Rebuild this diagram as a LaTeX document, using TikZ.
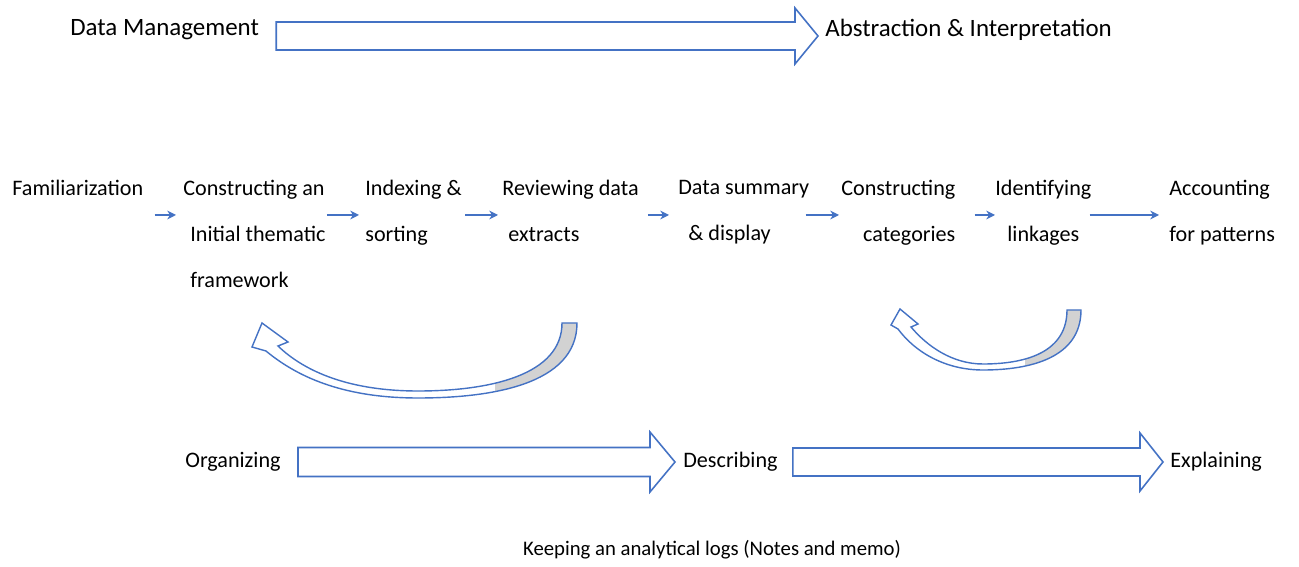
\documentclass[tikz,border=0pt]{standalone}
\usepackage{fontspec}
\setmainfont{Carlito}
\usetikzlibrary{arrows.meta,calc}

\definecolor{officeblue}{HTML}{4472C4}
\definecolor{tailgray}{HTML}{D2D2D2}

\tikzset{
  headtext/.style={font=\fontsize{14.2}{17}\selectfont, inner sep=0pt, anchor=west},
  steptext/.style={font=\fontsize{12.6}{26.2}\selectfont, inner sep=0pt, anchor=north west},
  phasetext/.style={font=\fontsize{12.6}{15}\selectfont, inner sep=0pt, anchor=west},
  flow/.style={officeblue, line width=0.8pt, -{Stealth[length=5pt,width=5pt]}},
  blockarrow/.style={draw=officeblue, line width=0.9pt, fill=white, line join=miter},
  loopback/.style={draw=officeblue, line width=0.8pt}
}

% hollow block arrow: start, tip, half shaft, half head, head length
\newcommand{\bigarrow}[5]{%
  \draw[blockarrow] ($(#1)+(0,-#3)$) -- ($(#2)+(-#5,-#3)$) -- ($(#2)+(-#5,-#4)$)
    -- (#2) -- ($(#2)+(-#5,#4)$) -- ($(#2)+(-#5,#3)$) -- ($(#1)+(0,#3)$) -- cycle;}

% curved return arrows
\newcommand{\leftloop}{(577,323) .. controls (577,385) and (490,398) .. (418,398)
  .. controls (340,398) and (295,375) .. (266,351) -- (252,347) -- (262,323)
  -- (288,342) -- (278,346) .. controls (305,372) and (350,391) .. (418,391)
  .. controls (490,391) and (562,375) .. (562,323) -- cycle}
\newcommand{\rightloop}{(1081,310) .. controls (1081,358) and (1030,370) .. (983,370)
  .. controls (945,370) and (915,352) .. (898,329) -- (891,325) -- (900,309)
  -- (918,324) -- (911,327) .. controls (927,346) and (952,364) .. (983,364)
  .. controls (1030,364) and (1067,350) .. (1067,310) -- cycle}

\begin{document}
\begin{tikzpicture}[x=0.02cm, y=-0.02cm]
  \useasboundingbox (0,0) rectangle (1299,567);

  % phases
  \node[headtext] (dm) at (70,30) {Data Management};
  \node[headtext] (abs) at (825,30) {Abstraction \& Interpretation};
  \coordinate (dmstart) at ($(dm.east)+(17,6)$);
  \coordinate (abstip) at ($(abs.west)+(-7,6)$);
  \bigarrow{dmstart}{abstip}{14}{28}{23}

  % steps
  \node[steptext] (fam) at (12,180) {Familiarization};
  \node[steptext, align=left] (cons) at (183,180) {Constructing an\\\hspace*{4pt}Initial thematic\\\hspace*{4pt}framework};
  \node[steptext, align=left] (idx) at (365,180) {Indexing \&\\sorting};
  \node[steptext, align=left] (rev) at (502,180) {Reviewing data\\\hspace*{3.4pt}extracts};
  \node[steptext, align=left] (data) at (678,180) {Data summary\\\hspace*{5.7pt}\& display};
  \node[steptext, align=right] (cat) at (841,180) {Constructing\\categories};
  \node[steptext, align=center] (link) at (995,180) {Identifying\\linkages};
  \node[steptext, align=left] (acc) at (1169,180) {Accounting\\for patterns};

  \coordinate (row) at (0,215);
  \foreach \a/\b/\s/\e in {fam/cons/11/-7, cons/idx/1/-6, idx/rev/3/-4, rev/data/9/-9,
                           data/cat/-4/-2, cat/link/19/0, link/acc/-2/-10}
    \draw[flow] ($(\a.east |- row)+(\s,0)$) -- ($(\b.west |- row)+(\e,0)$);

  % loops back
  \fill[white] \leftloop;
  \begin{scope}
    \clip (495,300) rectangle (600,410);
    \fill[tailgray] \leftloop;
  \end{scope}
  \draw[loopback] \leftloop;

  \fill[white] \rightloop;
  \begin{scope}
    \clip (1025,300) rectangle (1100,380);
    \fill[tailgray] \rightloop;
  \end{scope}
  \draw[loopback] \rightloop;

  % bottom row
  \node[phasetext] (org) at (185,462) {Organizing};
  \node[phasetext] (desc) at (683,462) {Describing};
  \node[phasetext] (expl) at (1170,462) {Explaining};
  \coordinate (orgstart) at ($(org.east)+(17,0)$);
  \coordinate (desctip) at ($(desc.west)+(-8,0)$);
  \coordinate (descstart) at ($(desc.east)+(15,0)$);
  \coordinate (expltip) at ($(expl.west)+(-7,0)$);
  \bigarrow{orgstart}{desctip}{14.5}{30}{25}
  \bigarrow{descstart}{expltip}{14}{29}{23}

  \node[font=\fontsize{11.8}{14}\selectfont, inner sep=0pt] (log) at (712,550)
    {Keeping an analytical logs (Notes and memo)};
\end{tikzpicture}
\end{document}
